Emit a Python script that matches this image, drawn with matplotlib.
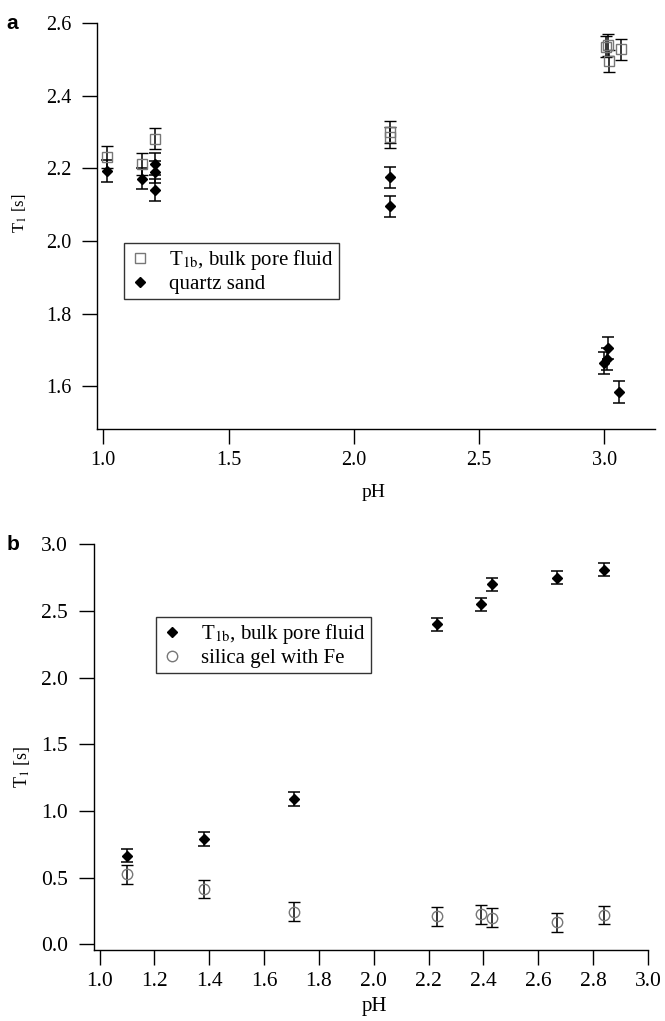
# T1 relaxation vs pH, two panels (a: quartz sand, b: silica gel with Fe)

import matplotlib
matplotlib.use('Agg')
import matplotlib.pyplot as plt

# -- data --
# panel a
bulk_ph = [1.013, 1.153, 1.206, 2.145, 2.145, 3.005, 3.015, 3.018, 3.065]
bulk_t1 = [2.232, 2.212, 2.282, 2.300, 2.285, 2.535, 2.540, 2.496, 2.527]
bulk_err = [0.03, 0.03, 0.03, 0.03, 0.03, 0.03, 0.03, 0.03, 0.03]

sand_ph = [1.013, 1.153, 1.206, 1.206, 1.206, 2.145, 2.145, 3.000, 3.010, 3.016, 3.060]
sand_t1 = [2.192, 2.172, 2.212, 2.190, 2.140, 2.175, 2.095, 1.665, 1.676, 1.706, 1.585]
sand_err = [0.03, 0.03, 0.03, 0.03, 0.03, 0.03, 0.03, 0.03, 0.03, 0.03, 0.03]

# panel b
ph_b = [1.10, 1.38, 1.71, 2.23, 2.39, 2.43, 2.67, 2.84]
fluid_t1 = [0.665, 0.79, 1.09, 2.40, 2.55, 2.70, 2.75, 2.81]
fluid_err = [0.05, 0.05, 0.05, 0.05, 0.05, 0.05, 0.05, 0.05]
gel_t1 = [0.525, 0.415, 0.245, 0.21, 0.225, 0.20, 0.165, 0.22]
gel_err = [0.07, 0.07, 0.07, 0.07, 0.07, 0.07, 0.07, 0.07]

plt.rcParams['font.family'] = ['Liberation Serif', 'DejaVu Serif']
plt.rcParams['mathtext.fontset'] = 'stix'

fig = plt.figure(figsize=(6.65, 10.21), dpi=100)
ax1 = fig.add_axes([0.1466, 0.5803, 0.985 - 0.1466, 0.9775 - 0.5803])
ax2 = fig.add_axes([0.1414, 0.0700, 0.9744 - 0.1414, 0.4669 - 0.0700])

err_kw = dict(ls='none', ecolor='black', elinewidth=1.1, capsize=4, capthick=1.1)


def style_axes(ax, size):
    ax.spines['top'].set_visible(False)
    ax.spines['right'].set_visible(False)
    for s in ['left', 'bottom']:
        ax.spines[s].set_linewidth(1.0)
    ax.tick_params(direction='out', length=11, width=1.0, labelsize=size)
    ax.tick_params(axis='x', pad=5)
    ax.tick_params(axis='y', pad=8)
    ax.xaxis.set_major_formatter('{x:.1f}')
    ax.yaxis.set_major_formatter('{x:.1f}')


def add_legend(ax, anchor):
    # legend shows markers only, no error bar lines
    h, l = ax.get_legend_handles_labels()
    h = [x[0] for x in h]
    leg = ax.legend(h, l, loc='upper left', bbox_to_anchor=anchor, borderaxespad=0,
                    frameon=True, fancybox=False, edgecolor='black', fontsize=15,
                    handlelength=1.0, handletextpad=0.9, borderpad=0.25,
                    labelspacing=0.1)
    leg.get_frame().set_linewidth(1.0)


# -- panel a --
ax1.errorbar(bulk_ph, bulk_t1, yerr=bulk_err, marker='s', ms=7, mfc='none',
             mec='#777777', mew=1.0, label=r'T$_{\rm 1b}$, bulk pore fluid', **err_kw)
ax1.errorbar(sand_ph, sand_t1, yerr=sand_err, marker='D', ms=5.5, mfc='black',
             mec='black', label='quartz sand', **err_kw)
ax1.set_xlim(0.977, 3.202)
ax1.set_ylim(1.484, 2.6)
ax1.set_xticks([1.0, 1.5, 2.0, 2.5, 3.0])
ax1.set_yticks([1.6, 1.8, 2.0, 2.2, 2.4, 2.6])
style_axes(ax1, 14.5)
ax1.set_xlabel('pH', fontsize=14)
ax1.set_ylabel(r'T$_{\rm 1}$ [s]', fontsize=12)
ax1.xaxis.set_label_coords(0.495, -0.159)
ax1.xaxis.label.set_va('center')
ax1.yaxis.set_label_coords(-0.14, 0.53)
ax1.yaxis.label.set_va('center')
add_legend(ax1, (0.048, 0.457))
fig.text(0.01, 0.972, 'a', family='Liberation Sans', weight='bold', fontsize=15)

# -- panel b --
ax2.errorbar(ph_b, fluid_t1, yerr=fluid_err, marker='D', ms=5.5, mfc='black',
             mec='black', label=r'T$_{\rm 1b}$, bulk pore fluid', **err_kw)
ax2.errorbar(ph_b, gel_t1, yerr=gel_err, marker='o', ms=7.5, mfc='none',
             mec='#777777', mew=1.0, label='silica gel with Fe', **err_kw)
ax2.set_xlim(0.98, 3.0)
ax2.set_ylim(-0.039, 3.0)
ax2.set_xticks([1.0, 1.2, 1.4, 1.6, 1.8, 2.0, 2.2, 2.4, 2.6, 2.8, 3.0])
ax2.set_yticks([0.0, 0.5, 1.0, 1.5, 2.0, 2.5, 3.0])
style_axes(ax2, 15.5)
ax2.set_xlabel('pH', fontsize=15)
ax2.set_ylabel(r'T$_{\rm 1}$ [s]', fontsize=13)
ax2.xaxis.set_label_coords(0.506, -0.141)
ax2.xaxis.label.set_va('center')
ax2.yaxis.set_label_coords(-0.13, 0.45)
ax2.yaxis.label.set_va('center')
add_legend(ax2, (0.112, 0.8206))
fig.text(0.01, 0.4613, 'b', family='Liberation Sans', weight='bold', fontsize=15)

plt.savefig('out.png', dpi=100)
